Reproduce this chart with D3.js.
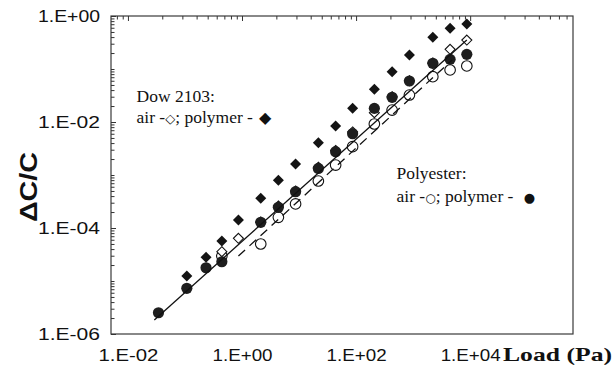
<!DOCTYPE html>
<html>
<head>
<meta charset="utf-8">
<style>
body { margin: 0; background: #fff; }
svg { font-family: "Liberation Sans", Arial, sans-serif; }
.frame { fill: none; stroke: #3a3a3a; stroke-width: 1.2px; }
.ticks line { stroke: #333; stroke-width: 1px; }
.ticks path { display: none; }
.lbl text { font-size: 16px; fill: #111; }
.lbl path, .lbl line { display: none; }
.note { font-family: "Liberation Serif", "Times New Roman", serif; font-size: 17.5px; fill: #111; }
.sym { font-family: "DejaVu Sans", sans-serif; }
.fit { fill: none; stroke: #111; stroke-width: 1.3px; }
</style>
</head>
<body>
<svg width="615" height="378"></svg>
<script src="https://d3js.org/d3.v7.min.js"></script>
<script>

// load (Pa), one column per measurement step
var loads = [0.0343, 0.1077, 0.234, 0.443, 0.865, 2.13, 4.34, 8.69, 21.8, 43.8, 86.9, 209, 428, 861, 2214, 4448, 8733];

// dC/C per load column, null = no point
var polyPolymer = [2.52e-6, 7.28e-6, 1.78e-5, 2.31e-5, null, 1.28e-4, 2.46e-4, 4.84e-4, 1.33e-3, 2.75e-3, 6.01e-3, 1.81e-2, 2.92e-2, 5.94e-2, 0.128, 0.152, 0.189];
var polyAir     = [null, null, null, 2.96e-5, null, 4.99e-5, 1.59e-4, 2.84e-4, 7.7e-4, 1.54e-3, 3.42e-3, 9.17e-3, 1.68e-2, 3.23e-2, 7.16e-2, 9.58e-2, 0.114];
var dowPolymer  = [null, 1.24e-5, 2.8e-5, 5.69e-5, 1.42e-4, 3.63e-4, 7.98e-4, 1.61e-3, 4.07e-3, 8.41e-3, 1.81e-2, 4.14e-2, 8.89e-2, 0.184, 0.396, 0.586, 0.706];
var dowAir      = [null, null, null, 3.57e-5, 6.39e-5, 1.3e-4, 2.6e-4, 5.0e-4, 1.4e-3, 2.9e-3, 6.5e-3, 1.5e-2, 3.0e-2, 6.0e-2, 0.13, 0.235, 0.352];

// trend lines (end points)
var solidFitX = [0.0290, 8733], solidFitY = [1.84e-6, 0.352];
var dashFitX = [0.865, 4822], dashFitY = [2.96e-5, 0.148];

var xTicks = [1e-2, 1, 1e2, 1e4];
var yTicks = [1, 1e-2, 1e-4, 1e-6];

var svg = d3.select("svg");

var plotL = 111, plotR = 573, plotT = 16, plotB = 334;

var x = d3.scaleLog()
    .domain([Math.pow(10, -2.297), Math.pow(10, 5.803)])
    .range([plotL, plotR]);

var y = d3.scaleLog()
    .domain([1e-6, 1])
    .range([plotB, plotT]);

var fmt = function(d) {
  var e = Math.round(Math.log10(d));
  return "1.E" + (e < 0 ? "-" : "+") + (Math.abs(e) < 10 ? "0" : "") + Math.abs(e);
};

// frame
svg.append("rect")
    .attr("class", "frame")
    .attr("x", plotL).attr("y", plotT)
    .attr("width", plotR - plotL).attr("height", plotB - plotT);

// inward ticks on left
var yMinor = y.ticks().filter(function(d) { return yTicks.indexOf(d) < 0; });
svg.append("g").attr("class", "ticks")
    .attr("transform", "translate(" + plotL + ",0)")
    .call(d3.axisLeft(y).tickValues(yMinor).tickSize(-3.5).tickFormat(""));
svg.append("g").attr("class", "ticks")
    .attr("transform", "translate(" + plotL + ",0)")
    .call(d3.axisLeft(y).tickValues(yTicks).tickSize(-5).tickFormat(""));

// inward ticks on top (2 decades per cycle)
var topTicks = [];
d3.range(-2, 4).forEach(function(n) {
  d3.range(2, 10).forEach(function(m) {
    var v = m * m * Math.pow(100, n);
    if (v > x.domain()[0] && v < x.domain()[1]) topTicks.push(v);
  });
});
svg.append("g").attr("class", "ticks")
    .attr("transform", "translate(0," + plotT + ")")
    .call(d3.axisTop(x).tickValues(topTicks).tickSize(-3.5).tickFormat(""));
svg.append("g").attr("class", "ticks")
    .attr("transform", "translate(0," + plotT + ")")
    .call(d3.axisTop(x).tickValues(xTicks).tickSize(-5).tickFormat(""));

// tick labels
svg.append("g").attr("class", "lbl")
    .attr("transform", "translate(0," + plotB + ")")
    .call(d3.axisBottom(x).tickValues(xTicks).tickFormat(fmt).tickSize(0).tickPadding(16))
  .selectAll("text")
    .attr("textLength", 60).attr("lengthAdjust", "spacingAndGlyphs");

svg.append("g").attr("class", "lbl")
    .attr("transform", "translate(" + plotL + ",0)")
    .call(d3.axisLeft(y).tickValues(yTicks).tickFormat(fmt).tickSize(0).tickPadding(11))
  .selectAll("text")
    .attr("textLength", 62).attr("lengthAdjust", "spacingAndGlyphs");

// axis titles
svg.append("text")
    .attr("transform", "translate(37,187) rotate(-90)")
    .attr("text-anchor", "middle")
    .attr("textLength", 70).attr("lengthAdjust", "spacingAndGlyphs")
    .style("font-weight", "bold").style("font-size", "23px").style("fill", "#111")
    .text("ΔC/C");

svg.append("text")
    .attr("x", 503).attr("y", 361)
    .attr("textLength", 109).attr("lengthAdjust", "spacingAndGlyphs")
    .style("font-family", "'Liberation Serif', 'Times New Roman', serif")
    .style("font-weight", "bold").style("font-size", "19px").style("fill", "#111")
    .text("Load (Pa)");

function pts(series) {
  return loads.map(function(l, i) { return {x: l, y: series[i]}; })
    .filter(function(d) { return d.y != null; });
}

function diamond(h) {
  return "M0," + (-h) + "L" + h + ",0L0," + h + "L" + (-h) + ",0Z";
}

// open circles
svg.selectAll(".oc").data(pts(polyAir)).enter().append("circle")
    .attr("class", "oc")
    .attr("cx", function(d) { return x(d.x); })
    .attr("cy", function(d) { return y(d.y); })
    .attr("r", 5.3)
    .style("fill", "#fff").style("stroke", "#111").style("stroke-width", 1.1);

// open diamonds
svg.selectAll(".od").data(pts(dowAir)).enter().append("path")
    .attr("class", "od")
    .attr("transform", function(d) { return "translate(" + x(d.x) + "," + y(d.y) + ")"; })
    .attr("d", diamond(5))
    .style("fill", "#fff").style("stroke", "#111").style("stroke-width", 1.1);

// filled diamonds
svg.selectAll(".fd").data(pts(dowPolymer)).enter().append("path")
    .attr("class", "fd")
    .attr("transform", function(d) { return "translate(" + x(d.x) + "," + y(d.y) + ")"; })
    .attr("d", diamond(5.5))
    .style("fill", "#141414");

// filled circles
svg.selectAll(".fc").data(pts(polyPolymer)).enter().append("circle")
    .attr("class", "fc")
    .attr("cx", function(d) { return x(d.x); })
    .attr("cy", function(d) { return y(d.y); })
    .attr("r", 5.6)
    .style("fill", "#1e1e1e");

// fit lines
var line = d3.line()
    .x(function(d) { return x(d[0]); })
    .y(function(d) { return y(d[1]); });

svg.append("path").attr("class", "fit")
    .attr("d", line(d3.zip(solidFitX, solidFitY)));

svg.append("path").attr("class", "fit")
    .attr("d", line(d3.zip(dashFitX, dashFitY)))
    .style("stroke-dasharray", "9,6");

// annotations
var dow = svg.append("g");
dow.append("text").attr("class", "note").attr("x", 136.5).attr("y", 101.5).text("Dow 2103:");
var t1 = dow.append("text").attr("class", "note").attr("x", 136.5).attr("y", 123.3);
t1.append("tspan").text("air -");
t1.append("tspan").attr("class", "sym").style("font-size", "13px").text("◇");
t1.append("tspan").text("; polymer -");
t1.append("tspan").attr("class", "sym").attr("dx", 6).style("font-size", "16px").text("◆");

var pol = svg.append("g");
pol.append("text").attr("class", "note").attr("x", 396.5).attr("y", 179).text("Polyester:");
var t2 = pol.append("text").attr("class", "note").attr("x", 396.5).attr("y", 201.7);
t2.append("tspan").text("air -");
t2.append("tspan").attr("class", "sym").style("font-size", "12px").text("○");
t2.append("tspan").text("; polymer - ");
t2.append("tspan").attr("class", "sym").attr("dx", 6).style("font-size", "13px").text("●");

</script>
</body>
</html>
